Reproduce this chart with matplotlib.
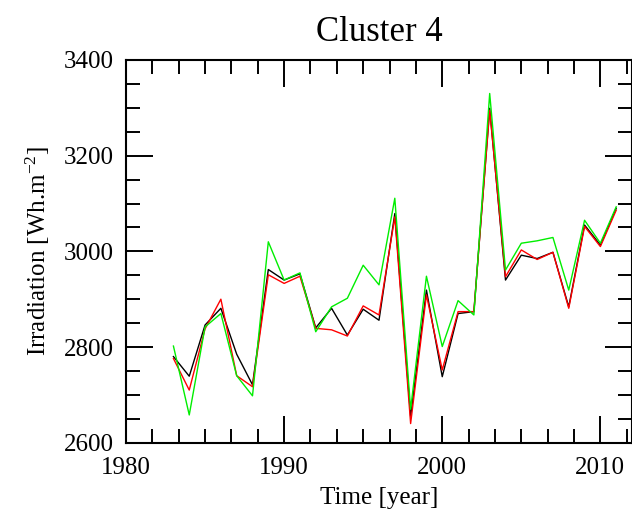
import matplotlib
matplotlib.use("Agg")
import matplotlib.pyplot as plt
from matplotlib.ticker import MultipleLocator, AutoMinorLocator

years = list(range(1983, 2012))
black = [2780, 2739, 2846, 2881, 2785, 2721, 2962, 2940, 2953, 2840, 2881, 2825, 2879, 2856, 3079,
         2655, 2919, 2738, 2870, 2874, 3299, 2940, 2992, 2985, 2998, 2884, 3055, 3013, 3090]
red = [2776, 2710, 2838, 2900, 2740, 2717, 2951, 2933, 2948, 2839, 2836, 2823, 2886, 2867, 3072,
       2640, 2909, 2752, 2874, 2874, 3295, 2947, 3003, 2983, 2998, 2881, 3052, 3010, 3086]
green = [2802, 2658, 2842, 2870, 2740, 2698, 3020, 2940, 2955, 2832, 2884, 2902, 2971, 2930, 3111,
         2670, 2948, 2801, 2897, 2867, 3330, 2961, 3017, 3022, 3029, 2919, 3065, 3017, 3093]

title = "Cluster 4"
xlabel = "Time [year]"
ylabel = "Irradiation [Wh.m$^{-2}$]"

plt.rcParams['font.family'] = ['Liberation Serif', 'DejaVu Serif']
plt.rcParams['mathtext.fontset'] = 'custom'
plt.rcParams['mathtext.rm'] = 'Liberation Serif'
plt.rcParams['mathtext.it'] = 'Liberation Serif'

W, H = 632, 514
fig = plt.figure(figsize=(W / 100, H / 100), dpi=100)
ax = fig.add_axes([126 / W, (H - 442.7) / H, 506 / W, 382.7 / H])

ax.plot(years, black, color='black', lw=1.0)
ax.plot(years, red, color='red', lw=1.0)
ax.plot(years, green, color='#00ee00', lw=1.0)

ax.set_xlim(1980, 2012)
ax.set_ylim(2600, 3400)
ax.xaxis.set_major_locator(MultipleLocator(10))
ax.xaxis.set_minor_locator(AutoMinorLocator(6))
ax.yaxis.set_major_locator(MultipleLocator(200))
ax.yaxis.set_minor_locator(MultipleLocator(50))

ax.tick_params(which='both', direction='in', top=True, right=True, width=1.4, labelsize=18)
ax.tick_params(which='major', length=19.5)
ax.tick_params(which='minor', length=10)
ax.tick_params(axis='y', pad=9)
ax.tick_params(axis='x', pad=10)
for s in ax.spines.values():
    s.set_linewidth(1.5)

ax.set_title(title, fontsize=25, pad=14)
ax.set_xlabel(xlabel, fontsize=18, labelpad=6)
ax.set_ylabel(ylabel, fontsize=18, labelpad=8)

fig.savefig("out.png", dpi=100)
